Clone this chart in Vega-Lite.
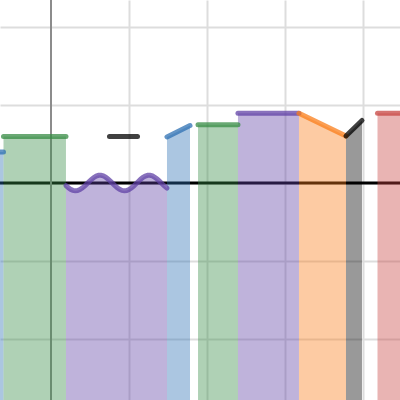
{
  "$schema": "https://vega.github.io/schema/vega-lite/v6.json",
  "width": 400,
  "height": 400,
  "padding": 0,
  "autosize": {"type": "none"},
  "config": {"view": {"stroke": null}},
  "datasets": {
    "axes": [{"v": 0}],
    "regions": [
      {"s": 1, "c": "blue", "x": -0.72, "y": 0.397},
      {"s": 1, "c": "blue", "x": -0.609, "y": 0.397},
      {"s": 2, "c": "green", "x": -0.609, "y": 0.596},
      {"s": 2, "c": "green", "x": 0.192, "y": 0.596},
      {"s": 3, "c": "purple", "x": 0.192, "y": -0.034},
      {"s": 3, "c": "purple", "x": 0.22, "y": -0.059},
      {"s": 3, "c": "purple", "x": 0.25, "y": -0.080},
      {"s": 3, "c": "purple", "x": 0.28, "y": -0.094},
      {"s": 3, "c": "purple", "x": 0.31, "y": -0.100},
      {"s": 3, "c": "purple", "x": 0.34, "y": -0.097},
      {"s": 3, "c": "purple", "x": 0.37, "y": -0.085},
      {"s": 3, "c": "purple", "x": 0.40, "y": -0.065},
      {"s": 3, "c": "purple", "x": 0.43, "y": -0.040},
      {"s": 3, "c": "purple", "x": 0.46, "y": -0.011},
      {"s": 3, "c": "purple", "x": 0.49, "y": 0.019},
      {"s": 3, "c": "purple", "x": 0.52, "y": 0.047},
      {"s": 3, "c": "purple", "x": 0.55, "y": 0.071},
      {"s": 3, "c": "purple", "x": 0.58, "y": 0.089},
      {"s": 3, "c": "purple", "x": 0.61, "y": 0.098},
      {"s": 3, "c": "purple", "x": 0.64, "y": 0.099},
      {"s": 3, "c": "purple", "x": 0.67, "y": 0.091},
      {"s": 3, "c": "purple", "x": 0.70, "y": 0.075},
      {"s": 3, "c": "purple", "x": 0.73, "y": 0.053},
      {"s": 3, "c": "purple", "x": 0.76, "y": 0.025},
      {"s": 3, "c": "purple", "x": 0.79, "y": -0.005},
      {"s": 3, "c": "purple", "x": 0.82, "y": -0.034},
      {"s": 3, "c": "purple", "x": 0.85, "y": -0.060},
      {"s": 3, "c": "purple", "x": 0.88, "y": -0.081},
      {"s": 3, "c": "purple", "x": 0.91, "y": -0.095},
      {"s": 3, "c": "purple", "x": 0.94, "y": -0.100},
      {"s": 3, "c": "purple", "x": 0.97, "y": -0.096},
      {"s": 3, "c": "purple", "x": 1.00, "y": -0.084},
      {"s": 3, "c": "purple", "x": 1.03, "y": -0.064},
      {"s": 3, "c": "purple", "x": 1.06, "y": -0.039},
      {"s": 3, "c": "purple", "x": 1.09, "y": -0.010},
      {"s": 3, "c": "purple", "x": 1.12, "y": 0.020},
      {"s": 3, "c": "purple", "x": 1.15, "y": 0.048},
      {"s": 3, "c": "purple", "x": 1.18, "y": 0.072},
      {"s": 3, "c": "purple", "x": 1.21, "y": 0.089},
      {"s": 3, "c": "purple", "x": 1.24, "y": 0.099},
      {"s": 3, "c": "purple", "x": 1.27, "y": 0.099},
      {"s": 3, "c": "purple", "x": 1.30, "y": 0.091},
      {"s": 3, "c": "purple", "x": 1.33, "y": 0.074},
      {"s": 3, "c": "purple", "x": 1.36, "y": 0.051},
      {"s": 3, "c": "purple", "x": 1.39, "y": 0.024},
      {"s": 3, "c": "purple", "x": 1.42, "y": -0.006},
      {"s": 3, "c": "purple", "x": 1.45, "y": -0.035},
      {"s": 3, "c": "purple", "x": 1.487, "y": -0.067},
      {"s": 4, "c": "blue", "x": 1.487, "y": 0.590},
      {"s": 4, "c": "blue", "x": 1.782, "y": 0.737},
      {"s": 5, "c": "green", "x": 1.885, "y": 0.746},
      {"s": 5, "c": "green", "x": 2.397, "y": 0.746},
      {"s": 6, "c": "purple", "x": 2.397, "y": 0.894},
      {"s": 6, "c": "purple", "x": 3.179, "y": 0.894},
      {"s": 7, "c": "orange", "x": 3.179, "y": 0.894},
      {"s": 7, "c": "orange", "x": 3.782, "y": 0.603},
      {"s": 8, "c": "black", "x": 3.782, "y": 0.603},
      {"s": 8, "c": "black", "x": 3.987, "y": 0.801},
      {"s": 9, "c": "red", "x": 4.186, "y": 0.894},
      {"s": 9, "c": "red", "x": 4.6, "y": 0.894}
    ],
    "extra": [
      {"s": 10, "c": "black", "x": 0.75, "y": 0.596},
      {"s": 10, "c": "black", "x": 1.109, "y": 0.596}
    ]
  },
  "layer": [
    {
      "data": {"name": "axes"},
      "mark": {"type": "rule", "color": "#000000", "strokeWidth": 3},
      "encoding": {
        "y": {"field": "v", "type": "quantitative", "scale": {"domain": [-2.782, 2.346], "nice": false, "zero": false},
              "axis": {"grid": true, "values": [-2, -1, 0, 1, 2], "gridColor": "#dddddd", "gridWidth": 2, "ticks": false, "labels": false, "domain": false, "title": null}}
      }
    },
    {
      "data": {"name": "axes"},
      "mark": {"type": "rule", "color": "#8c8c8c", "strokeWidth": 2},
      "encoding": {
        "x": {"field": "v", "type": "quantitative", "scale": {"domain": [-0.6538, 4.4744], "nice": false, "zero": false},
              "axis": {"grid": true, "values": [1, 2, 3, 4], "gridColor": "#dddddd", "gridWidth": 2, "ticks": false, "labels": false, "domain": false, "title": null}}
      }
    },
    {
      "data": {"name": "regions"},
      "mark": {"type": "area", "fillOpacity": 0.4, "clip": true},
      "encoding": {
        "x": {"field": "x", "type": "quantitative"},
        "y": {"field": "y", "type": "quantitative"},
        "y2": {"datum": -3},
        "color": {"field": "c", "type": "nominal", "legend": null,
                  "scale": {"domain": ["blue", "green", "purple", "orange", "black", "red"], "range": ["#2d70b3", "#388c46", "#6042a6", "#fa7e19", "#000000", "#c74440"]}},
        "detail": {"field": "s", "type": "nominal"}
      }
    },
    {
      "data": {"name": "regions"},
      "mark": {"type": "line", "strokeWidth": 5, "strokeCap": "round", "opacity": 0.75, "clip": true},
      "encoding": {
        "x": {"field": "x", "type": "quantitative"},
        "y": {"field": "y", "type": "quantitative"},
        "color": {"field": "c", "type": "nominal", "legend": null},
        "detail": {"field": "s", "type": "nominal"}
      }
    },
    {
      "data": {"name": "extra"},
      "mark": {"type": "line", "strokeWidth": 5, "strokeCap": "round", "opacity": 0.75, "clip": true},
      "encoding": {
        "x": {"field": "x", "type": "quantitative"},
        "y": {"field": "y", "type": "quantitative"},
        "color": {"field": "c", "type": "nominal", "legend": null},
        "detail": {"field": "s", "type": "nominal"}
      }
    }
  ]
}
